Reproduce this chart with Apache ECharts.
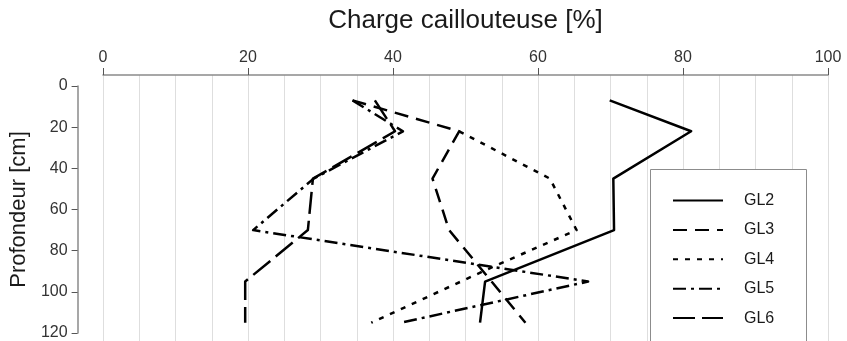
<!DOCTYPE html>
<html>
<head>
<meta charset="utf-8">
<script src="https://cdn.jsdelivr.net/npm/echarts@6/dist/echarts.min.js"></script>
<style>
  html, body { margin: 0; padding: 0; background: #fff; }
  #chart { width: 847px; height: 341px; }
</style>
</head>
<body>
<div id="chart"></div>
<script>
// Stone content (%) against sampling depth (cm) for five profiles
const depths = [7, 22, 45, 70, 95, 115];
const gl2 = [69.7, 81.0, 70.2, 70.3, 52.4, 51.7];
const gl3 = [34.0, 48.8, 45.1, 47.4, 53.3, 58.0];
const gl4Depths = [22, 45, 70, 88, 115];
const gl4 = [48.8, 61.4, 65.1, 53.4, 36.6];
const gl5 = [34.0, 41.0, 28.6, 20.2, 66.7, 40.7];
const gl6 = [37.1, 39.9, 28.5, 27.8, 19.1, 19.1];

const seriesNames = ['GL2', 'GL3', 'GL4', 'GL5', 'GL6'];
const xTicks = [0, 20, 40, 60, 80, 100];
const yTicks = [0, 20, 40, 60, 80, 100, 120];

const FONT = 'Liberation Sans, Arial, sans-serif';
const pairs = (xs, ds) => xs.map((v, i) => [v, ds[i]]);

const dashes = {
  GL2: 'solid',
  GL3: [14, 8],
  GL4: [5, 7],
  GL5: [13, 5, 3, 5],
  GL6: [22, 7]
};
const values = {
  GL2: pairs(gl2, depths),
  GL3: pairs(gl3, depths),
  GL4: pairs(gl4, gl4Depths),
  GL5: pairs(gl5, depths),
  GL6: pairs(gl6, depths)
};

const chart = echarts.init(document.getElementById('chart'), null, { renderer: 'canvas' });

chart.setOption({
  animation: false,
  backgroundColor: '#fff',
  grid: [
    // frame for the top axis and the vertical grid lines
    { left: 103, right: 19, top: 75, bottom: 0 },
    // plotting area: depth 0 to 120
    { left: 103, right: 19, top: 86, bottom: 5.5 }
  ],
  xAxis: [
    {
      gridIndex: 0, type: 'value', position: 'top',
      min: xTicks[0], max: xTicks[xTicks.length - 1], interval: 20,
      name: 'Charge caillouteuse [%]', nameLocation: 'middle', nameGap: 41,
      nameTextStyle: { fontFamily: FONT, fontSize: 26, color: '#1a1a1a' },
      axisLine: { show: true, onZero: false, lineStyle: { color: '#8a8a8a', width: 1.5 } },
      axisTick: { show: true, inside: false, length: 7, lineStyle: { color: '#555' } },
      axisLabel: { margin: 9, fontFamily: FONT, fontSize: 16, color: '#333' },
      splitLine: { show: true, lineStyle: { color: '#dedede', width: 1 } },
      minorTick: { show: false, splitNumber: 4 },
      minorSplitLine: { show: true, lineStyle: { color: '#dedede', width: 1 } }
    },
    {
      gridIndex: 1, type: 'value', min: 0, max: 100, show: false
    }
  ],
  yAxis: [
    { gridIndex: 0, type: 'value', min: 0, max: 1, show: false },
    {
      gridIndex: 1, type: 'value', inverse: true, position: 'left', offset: 30,
      min: yTicks[0], max: yTicks[yTicks.length - 1], interval: 20,
      name: 'Profondeur [cm]', nameLocation: 'middle', nameGap: 36,
      nameTextStyle: { fontFamily: FONT, fontSize: 22, color: '#1a1a1a' },
      axisLine: { show: true, onZero: false, lineStyle: { color: '#8a8a8a', width: 1.5 } },
      axisTick: { show: true, inside: false, length: 6, lineStyle: { color: '#555' } },
      axisLabel: { margin: 10, fontFamily: FONT, fontSize: 16, color: '#333' },
      splitLine: { show: false }
    }
  ],
  legend: {
    data: seriesNames,
    orient: 'vertical',
    left: 650, top: 169,
    padding: [23.5, 0, 0, 22],
    itemWidth: 50, itemHeight: 14, itemGap: 13.4,
    selectedMode: false,
    z: 10,
    itemStyle: { opacity: 0 },
    textStyle: { fontFamily: FONT, fontSize: 16, color: '#1a1a1a', padding: [0, 0, 0, 16] }
  },
  graphic: [{
    type: 'rect', z: 5,
    shape: { x: 650.5, y: 169.5, width: 156, height: 200 },
    style: { fill: '#fff', stroke: '#8c8c8c', lineWidth: 1 }
  }],
  series: seriesNames.map(name => ({
    name,
    type: 'line',
    xAxisIndex: 1, yAxisIndex: 1,
    data: values[name],
    symbol: 'none',
    smooth: false,
    lineStyle: { color: '#000', width: 2.5, type: dashes[name], cap: 'butt', join: 'round' },
    itemStyle: { color: '#000' },
    emphasis: { disabled: true }
  }))
});
</script>
</body>
</html>
